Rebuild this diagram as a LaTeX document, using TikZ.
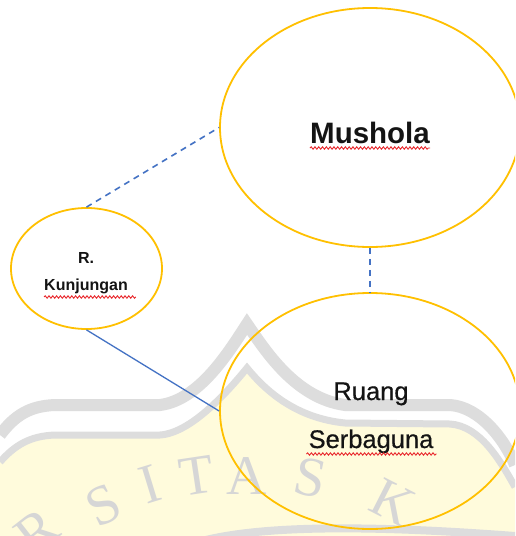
\documentclass[tikz,border=0pt]{standalone}
\usepackage{fontspec}
\setmainfont{Liberation Sans}
\newfontfamily\wmfont{Liberation Serif}
\newfontfamily\labelfont[FakeBold=0.6]{Liberation Sans}
\usetikzlibrary{shapes.geometric,decorations.pathmorphing}
\definecolor{roomline}{HTML}{FFC000}
\definecolor{linkblue}{HTML}{4472C4}
\definecolor{wmgrey}{HTML}{DDDDDD}
\definecolor{wmyellow}{HTML}{FFFBDC}
\definecolor{squigred}{HTML}{E8262B}
\tikzset{
  room/.style={ellipse, draw=roomline, line width=1.8pt, inner sep=0pt},
  link/.style={draw=linkblue, line width=1.3pt},
  dashlink/.style={link, line width=1.6pt, dash pattern=on 6pt off 5pt},
  lbl/.style={anchor=base, inner sep=0pt, text=black!92},
  squig/.style={draw=squigred, line width=0.9pt, decorate,
    decoration={snake, amplitude=1.2pt, segment length=3.8pt}},
  wmband/.style={draw=wmgrey, line cap=butt},
  wmletter/.style={font=\wmfont\fontsize{56}{56}\selectfont, text=wmgrey!97!black, inner sep=0pt}
}
\begin{document}
\begin{tikzpicture}[x=1pt,y=-1pt]
\useasboundingbox (0,0) rectangle (515,536);
\clip (0,0) rectangle (515,536);
\fill[white] (0,0) rectangle (515,536);

% faint crest in the background
\fill[wmyellow] (0,462) .. controls (15,445) and (30,436) .. (55,435) -- (160,435)
  .. controls (190,433) and (225,395) .. (247,368)
  .. controls (265,390) and (295,418) .. (345,423) -- (450,424)
  .. controls (480,426) and (500,460) .. (515,487) -- (515,536) -- (0,536) -- cycle;
\draw[wmband, line width=7pt] (0,462) .. controls (15,445) and (30,436) .. (55,435) -- (160,435)
  .. controls (190,433) and (225,395) .. (247,368)
  .. controls (265,390) and (295,418) .. (345,423) -- (450,424)
  .. controls (480,426) and (500,460) .. (515,487);
\draw[wmband, line width=12pt] (0,435) .. controls (15,415) and (30,406) .. (55,405) -- (160,405)
  .. controls (200,400) and (230,350) .. (247,324)
  .. controls (265,350) and (295,398) .. (345,405) -- (450,405)
  .. controls (480,407) and (505,440) .. (515,465);
\draw[wmband, line width=8pt] (180,548) .. controls (230,528) and (330,522) .. (515,536);
\foreach \ch/\x/\y/\r in {R/37/532/38, S/103/505/26, I/150/484/17, T/197/476/8.5,
                          A/247/476/0, S/310/478/-11.5, K/393/502/-27}
  \node[wmletter, rotate=\r] (wm-\x) at (\x,\y) {\ch};

% rooms
\node[room, minimum width=300pt, minimum height=239pt] (mus) at (370,127.5) {};
\node[room, minimum width=151pt, minimum height=121pt] (kun) at (86.5,268.5) {};
\node[room, minimum width=300pt, minimum height=236pt] (sb) at (370,411) {};

% room names
\node[lbl, font=\bfseries\fontsize{29.5}{30}\selectfont] (mtxt) at (370,143) {Mushola};
\node[lbl, font=\bfseries\fontsize{16}{16}\selectfont] (rtxt) at (86,263) {R.};
\node[lbl, font=\bfseries\fontsize{16}{16}\selectfont] (ktxt) at (86,290) {Kunjungan};
\node[lbl, font=\labelfont\fontsize{25.5}{26}\selectfont] (rgtxt) at (371,400) {Ruang};
\node[lbl, font=\labelfont\fontsize{25.5}{26}\selectfont] (sbtxt) at (371,448) {Serbaguna};

% spell-check marks
\draw[squig] ([yshift=-5pt]mtxt.base west) -- ([yshift=-5pt]mtxt.base east);
\draw[squig] ([yshift=-7pt]ktxt.base west) -- ([xshift=8pt,yshift=-7pt]ktxt.base east);
\draw[squig] ([xshift=-2pt,yshift=-6pt]sbtxt.base west) -- ([xshift=3pt,yshift=-6pt]sbtxt.base east);

% relations
\draw[dashlink] (kun.north) -- (mus.west);
\draw[dashlink] (mus.south) -- (sb.north);
\draw[link] (kun.south) -- (sb.west);
\end{tikzpicture}
\end{document}
